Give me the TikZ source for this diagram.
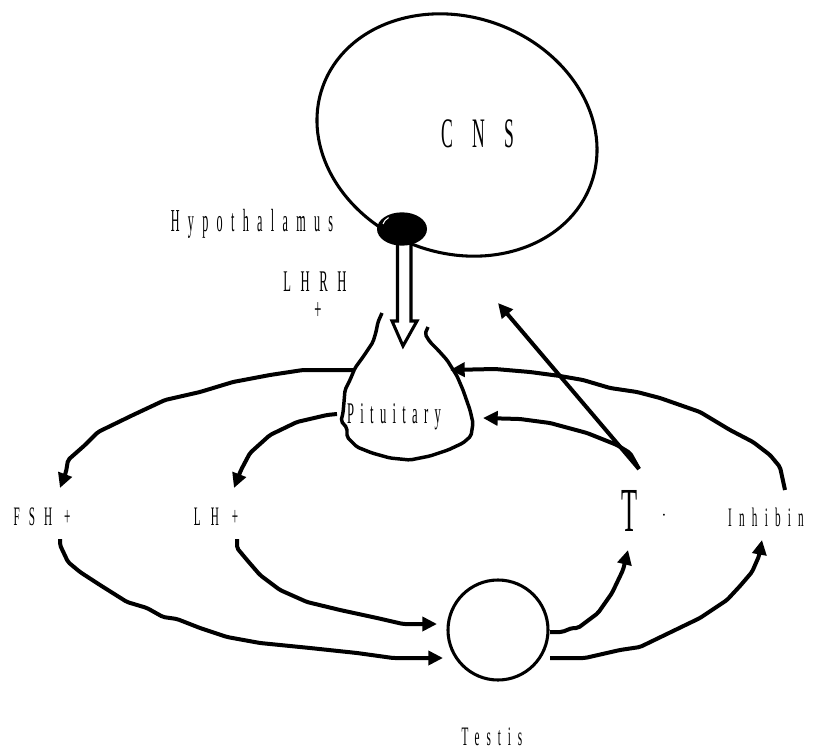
\documentclass[tikz,border=0pt]{standalone}
\usepackage{fontspec}
\setmainfont{Liberation Serif}
\newfontfamily\narrowserif[FakeStretch=0.42]{Liberation Serif}
\newfontfamily\narrowerserif[FakeStretch=0.38]{Liberation Serif}
\usetikzlibrary{arrows.meta,shapes.geometric}

\tikzset{
  lbl/.style={inner sep=0pt, outer sep=0pt},
  flow/.style={line width=3pt, rounded corners=1.5pt,
    -{Triangle[length=11pt,width=10.5pt]}},
  wobble/.style={line width=2.6pt, rounded corners=1.5pt},
}
\newcommand{\lfont}[3]{\fontsize{#1}{#1}\selectfont\addfontfeature{LetterSpace=#2}#3}

\begin{document}
\begin{tikzpicture}[x=0.75pt,y=-0.75pt]
\useasboundingbox (0,0) rectangle (831,752);

% central nervous system (slightly tilted oval)
\node[ellipse, draw, line width=2.3pt, minimum width=214pt, minimum height=177pt,
      inner sep=0pt, rotate=-20] (cns) at (457,135) {};
\node[lbl] (cnslabel) at (478,134) {\narrowserif\lfont{31.5pt}{45}{CNS}};

% releasing hormone: hollow arrow from the hypothalamus
\draw[line width=2.3pt, fill=white, line join=miter]
  (397.5,240) -- (397.5,321) -- (392,321) -- (403,346) -- (417,321) -- (411,321) -- (411,240);

% hypothalamus
\node[ellipse, fill=black, minimum width=37.5pt, minimum height=25pt, inner sep=0pt] (hyp) at (402,229) {};
\draw[white, line width=0.8pt] (383,224) arc[start angle=190, end angle=225, x radius=20, y radius=12];
\node[lbl] (hyplabel) at (252,224) {\narrowerserif\lfont{24pt}{26}{Hypothalamus}};
\node[lbl] (lhrh) at (315,282) {\narrowserif\lfont{22.5pt}{32}{LHRH}};
\node[lbl] (lhrhplus) at (318,311) {\narrowserif\lfont{22.5pt}{0}{+}};

% pituitary outline
\draw[wobble]
  (382,313) -- (378,322) -- (376,332) -- (373,342) -- (363,357) -- (355,368) -- (350,380)
  -- (345,390) -- (344,402) -- (343,413) -- (341,421) -- (347,428) -- (347,437)
  -- (357,447) -- (372,453) -- (390,458) -- (410,460) -- (430,456) -- (448,450)
  -- (463,443) -- (471,436) -- (473,423) -- (470,410) -- (463,390) -- (457,376)
  -- (447,360) -- (438,350) -- (430,342) -- (425,334) -- (428,327);
\node[lbl] (pit) at (394,417) {\narrowserif\lfont{22.5pt}{21}{Pituitary}};

% testis
\node[circle, draw, line width=2.3pt, minimum size=75pt, inner sep=0pt] (testis) at (498,630) {};
\node[lbl] (testislabel) at (492,737) {\narrowserif\lfont{20pt}{26}{Testis}};

% hormone labels
\node[lbl] (fsh) at (42,517) {\narrowserif\lfont{20pt}{34}{FSH +}};
\node[lbl] (lh) at (216,517) {\narrowserif\lfont{20pt}{38}{LH +}};
\node[lbl] (t) at (630,511) {\narrowserif\lfont{47pt}{0}{T}};
\node[lbl] (tdot) at (664,517) {\lfont{12pt}{0}{·}};
\node[lbl] (inh) at (766,517) {\narrowserif\lfont{20pt}{27}{Inhibin}};

% connector end points
\coordinate (pitA) at (353,370);
\coordinate (pitB) at (337,414);
\coordinate (pitC) at (450,370);
\coordinate (pitD) at (483,418);
\coordinate (cnsIn) at (498,303);
\coordinate (fshIn) at (60,488);
\coordinate (lhIn) at (234,488);
\coordinate (fshOut) at (60,539);
\coordinate (lhOut) at (237,539);
\coordinate (tIn) at (628,550);
\coordinate (tOut) at (639,469);
\coordinate (inhIn) at (762,540);
\coordinate (inhOut) at (785,490);
\coordinate (tesA) at (443,658);
\coordinate (tesB) at (437,624);
\coordinate (tesC) at (550,632);
\coordinate (tesD) at (550,658);

% pituitary -> FSH
\draw[flow] (pitA) -- (303,370) -- (270,375) -- (233,382) -- (200,392) -- (165,400)
  -- (133,415) -- (98,432) -- (85,445) -- (68,460) -- (66,472) -- (fshIn);
% pituitary -> LH
\draw[flow] (pitB) -- (327,415) -- (297,422) -- (270,435) -- (250,453) -- (241,470) -- (lhIn);
% inhibin -> pituitary
\draw[flow] (inhOut) -- (780,467) -- (770,455) -- (753,442) -- (730,430) -- (700,412)
  -- (660,398) -- (637,392) -- (610,388) -- (583,380) -- (560,376) -- (530,372)
  -- (495,369) -- (pitC);
% T -> pituitary
\draw[flow] (tOut) -- (630,453) -- (617,445) -- (587,433) -- (550,423) -- (520,419) -- (pitD);
% T -> CNS
\draw[flow] (tOut) -- (cnsIn);
% FSH -> testis
\draw[flow] (fshOut) -- (60,545) -- (68,562) -- (80,572) -- (100,585) -- (127,602)
  -- (147,608) -- (163,617) -- (177,619) -- (200,628) -- (227,637) -- (260,643)
  -- (310,648) -- (357,653) -- (393,658) -- (tesA);
% LH -> testis
\draw[flow] (lhOut) -- (237,548) -- (247,560) -- (260,575) -- (280,590) -- (307,602)
  -- (340,610) -- (377,618) -- (403,624) -- (tesB);
% testis -> T
\draw[flow] (tesC) -- (562,632) -- (572,628) -- (578,628) -- (598,613) -- (612,593)
  -- (623,570) -- (tIn);
% testis -> inhibin
\draw[flow] (tesD) -- (585,658) -- (620,650) -- (640,647) -- (700,618) -- (727,600)
  -- (740,586) -- (752,572) -- (759,556) -- (inhIn);
\end{tikzpicture}
\end{document}
